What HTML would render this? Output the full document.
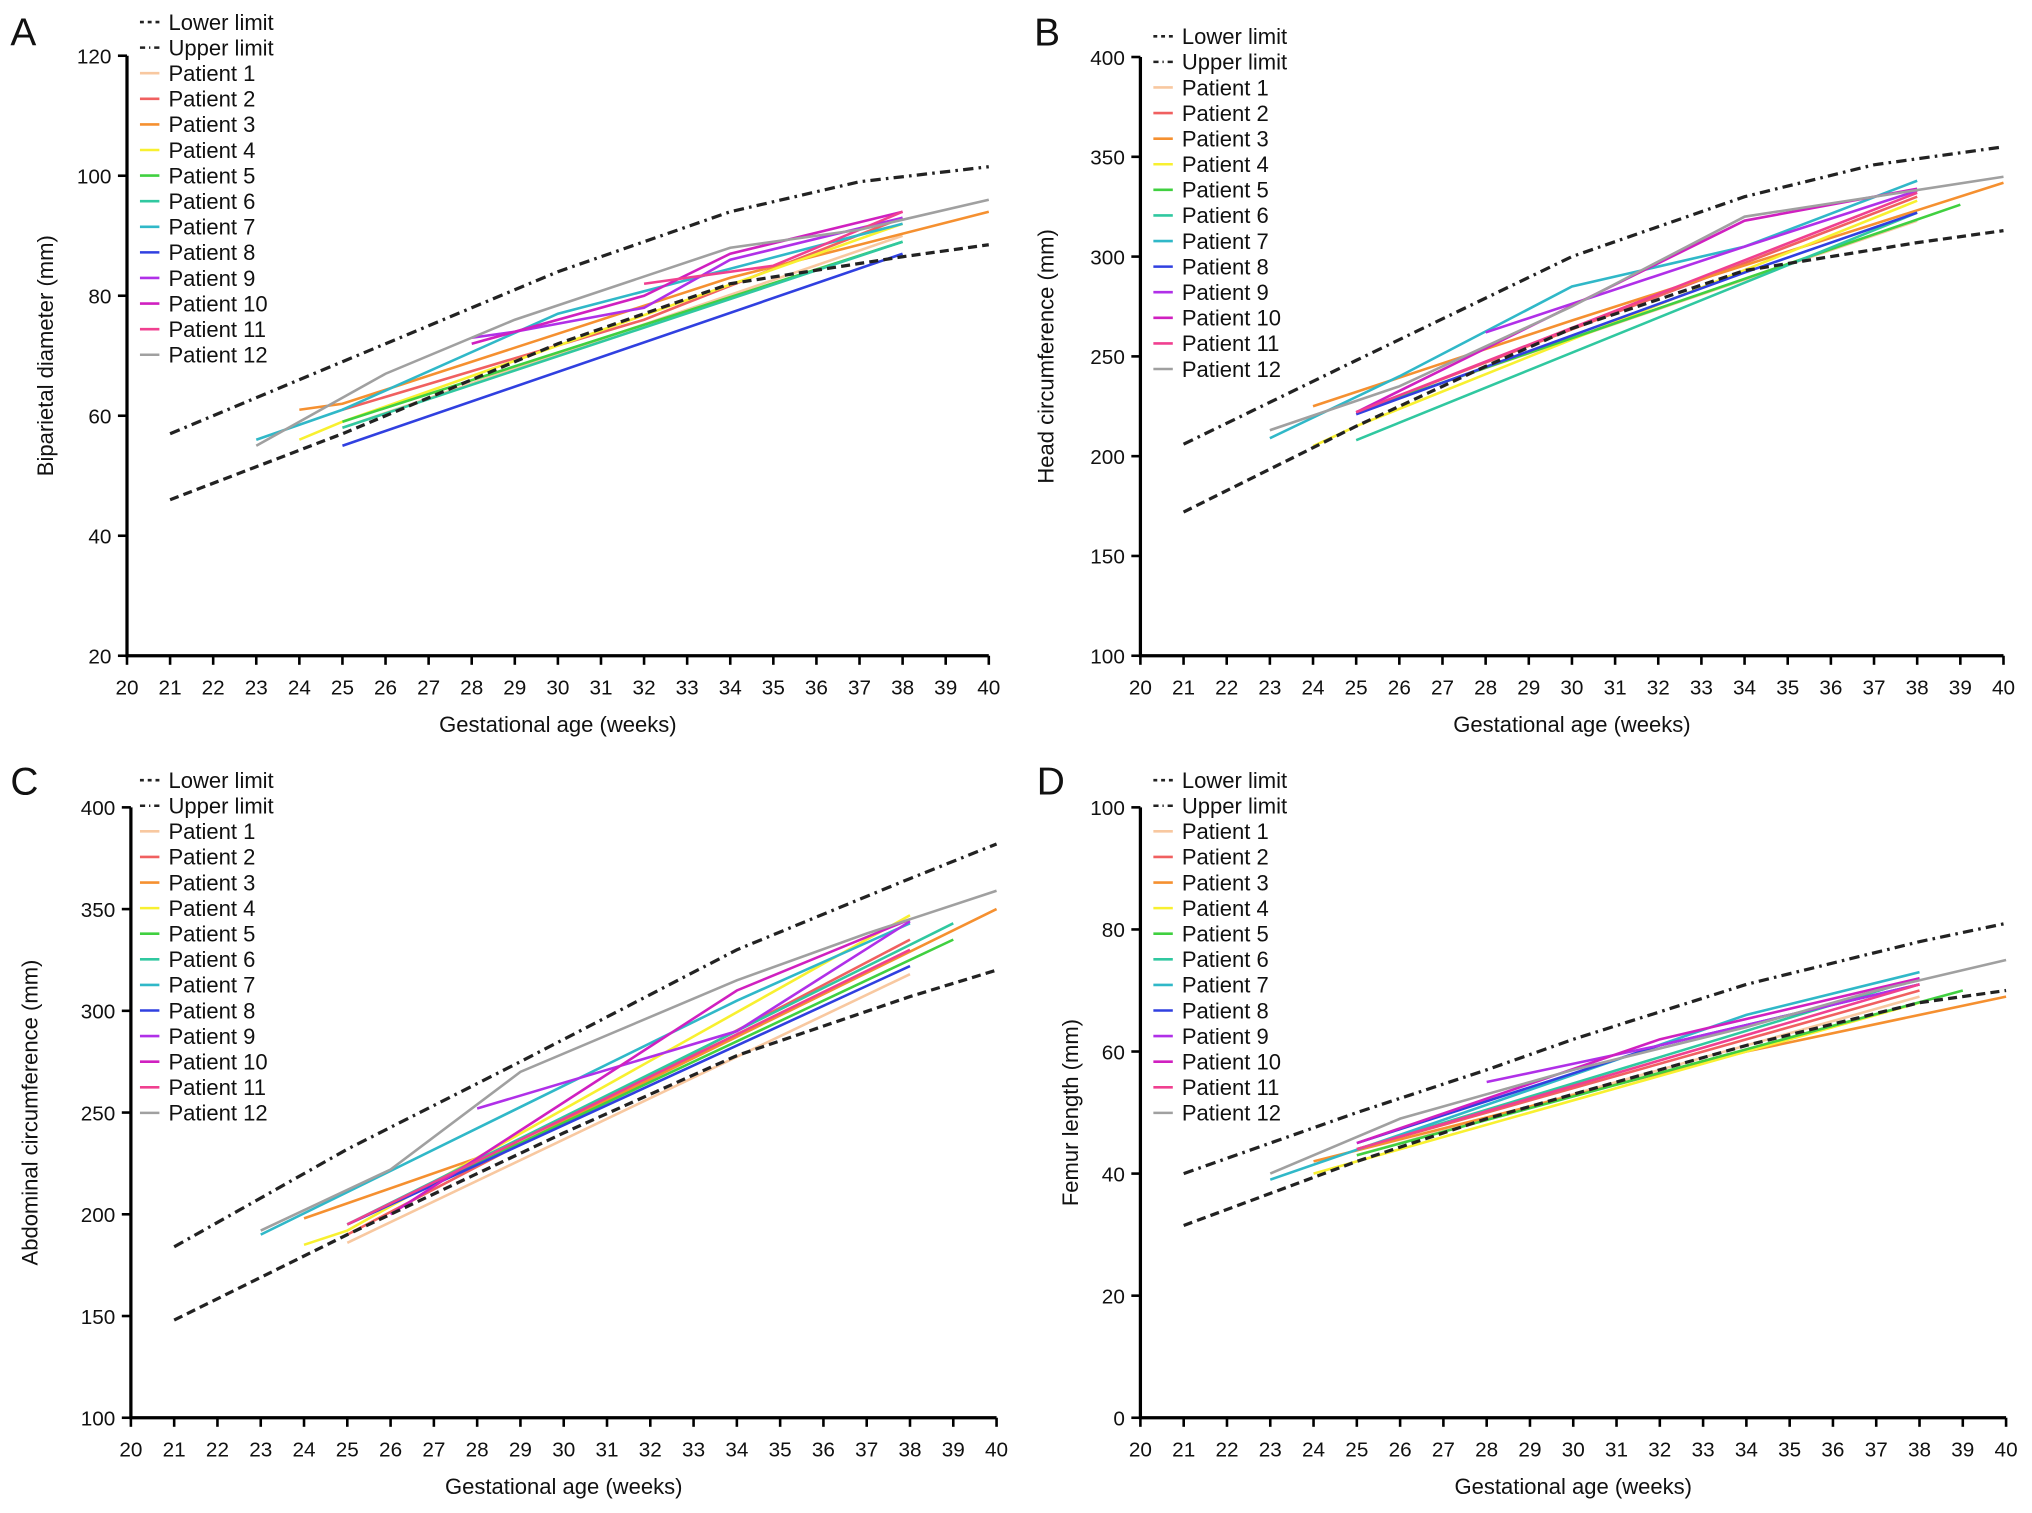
<!DOCTYPE html>
<html><head><meta charset="utf-8"><style>
html,body{margin:0;padding:0;background:#fff;}
svg{display:block;}
text{font-family:"Liberation Sans",Arial,sans-serif;fill:#111;}
</style></head><body>
<svg id="fig" width="2032" height="1513" viewBox="0 0 1568 1167.5" preserveAspectRatio="none" xmlns="http://www.w3.org/2000/svg"></svg>
<script>
const weekTicks = [20,21,22,23,24,25,26,27,28,29,30,31,32,33,34,35,36,37,38,39,40];
const patientNames = ["Patient 1","Patient 2","Patient 3","Patient 4","Patient 5","Patient 6","Patient 7","Patient 8","Patient 9","Patient 10","Patient 11","Patient 12"];
const patientColors = ["#f8c8a0","#f06060","#f59030","#f8f030","#40d040","#30c8a0","#30b8c8","#3040e0","#b030e8","#d020c0","#f04090","#a0a0a0"];

// Panel A: biparietal diameter
const aLower = [[21,46],[25,57],[28,66],[30,72],[34,82],[38,86.5],[40,88.5]];
const aUpper = [[21,57],[25,69],[28,78],[30,84],[34,94],[37,99],[40,101.5]];
const aPatients = [
 [[25,58],[38,90]],
 [[25,61],[32,76],[38,93]],
 [[24,61],[25,62],[34,83],[40,94]],
 [[24,56],[25,59],[38,92]],
 [[25,59],[38,89]],
 [[25,58],[38,89]],
 [[23,56],[25,61],[30,77],[38,92]],
 [[25,55],[38,87]],
 [[28,73],[29,74],[32,78],[34,86],[38,93]],
 [[28,72],[32,80],[34,87],[38,94]],
 [[32,82],[35,85],[38,94]],
 [[23,55],[26,67],[29,76],[34,88],[37,91],[40,96]]
];
const aYTicks = [20,40,60,80,100,120];

// Panel B: head circumference
const bLower = [[21,172],[25,215],[28,245],[30,264],[34,293],[38,307],[40,313]];
const bUpper = [[21,206],[25,248],[30,300],[34,330],[37,346],[40,355]];
const bPatients = [
 [[25,222],[38,318]],
 [[25,222],[38,330]],
 [[24,225],[30,268],[40,337]],
 [[24,205],[25,215],[38,328]],
 [[25,222],[39,326]],
 [[25,208],[38,322]],
 [[23,209],[26,240],[30,285],[34,305],[38,338]],
 [[25,221],[34,292],[38,322]],
 [[28,262],[34,305],[38,333]],
 [[25,222],[34,318],[38,334]],
 [[25,222],[38,332]],
 [[23,213],[26,235],[30,275],[34,320],[37,330],[40,340]]
];
const bYTicks = [100,150,200,250,300,350,400];

// Panel C: abdominal circumference
const cLower = [[21,148],[25,190],[28,220],[30,240],[34,278],[38,307],[40,320]];
const cUpper = [[21,184],[25,232],[29,275],[34,330],[38,365],[40,382]];
const cPatients = [
 [[25,186],[38,318]],
 [[25,190],[38,335]],
 [[24,198],[29,235],[40,350]],
 [[24,185],[25,192],[38,347]],
 [[25,195],[39,335]],
 [[25,195],[39,343]],
 [[23,190],[34,305],[38,343]],
 [[25,195],[38,322]],
 [[28,252],[34,290],[38,344]],
 [[26,200],[34,310],[38,345]],
 [[25,195],[38,330]],
 [[23,192],[26,222],[29,270],[34,315],[37,338],[40,359]]
];
const cYTicks = [100,150,200,250,300,350,400];

// Panel D: femur length
const dLower = [[21,31.5],[25,42],[28,49],[30,53],[34,61],[38,68],[40,70]];
const dUpper = [[21,40],[25,50],[28,57],[30,62],[34,71],[38,78],[40,81]];
const dPatients = [
 [[25,43],[38,69]],
 [[25,44],[38,70]],
 [[24,42],[34,60],[40,69]],
 [[24,40],[38,68]],
 [[25,43],[39,70]],
 [[25,44],[38,72]],
 [[23,39],[34,66],[38,73]],
 [[25,45],[32,61],[38,71]],
 [[28,55],[32,61],[38,71]],
 [[25,45],[32,62],[38,72]],
 [[25,44],[38,71]],
 [[23,40],[26,49],[30,57],[34,64],[37,70],[40,75]]
];
const dYTicks = [0,20,40,60,80,100];

const NS="http://www.w3.org/2000/svg";
const svg=document.getElementById('fig');
function mk(tag,attrs,parent){const e=document.createElementNS(NS,tag);for(const k in attrs)e.setAttribute(k,attrs[k]);(parent||svg).appendChild(e);return e;}

function panel(cfg){
 const g=mk('g',{});
 
 
 const xs=w=>cfg.x0+(w-20)*(cfg.x1-cfg.x0)/20;
 const ymin=cfg.yt[0], ymax=cfg.yt[cfg.yt.length-1];
 const ys=v=>cfg.yb-(v-ymin)*(cfg.yb-cfg.ytop)/(ymax-ymin);
 // axes
 const ax=mk('path',{d:`M${cfg.x0},${cfg.ytop} V${cfg.yb} H${cfg.x1}`,stroke:'#000','stroke-width':2.5,fill:'none'},g);
 
 
 for(const w of weekTicks){
  mk('line',{x1:xs(w),x2:xs(w),y1:cfg.yb,y2:cfg.yb+7,stroke:'#000','stroke-width':2},g);
  const t=mk('text',{x:xs(w),y:cfg.yb+30,'text-anchor':'middle','font-size':16},g);
  t.textContent=w;
  
  
 }
 for(const v of cfg.yt){
  mk('line',{x1:cfg.x0-7,x2:cfg.x0,y1:ys(v),y2:ys(v),stroke:'#000','stroke-width':2},g);
  const t=mk('text',{x:cfg.x0-12,y:ys(v)+6,'text-anchor':'end','font-size':16},g);
  t.textContent=v;
  
  
 }
 const xt=mk('text',{x:(cfg.x0+cfg.x1)/2,y:cfg.yb+59,'text-anchor':'middle','font-size':17},g);
 xt.textContent='Gestational age (weeks)';
 
 
 const yty=(cfg.ytop+cfg.yb)/2;
 const yt=mk('text',{x:cfg.ytx,y:yty,'text-anchor':'middle','font-size':17,transform:`rotate(-90 ${cfg.ytx} ${yty})`},g);
 yt.textContent=cfg.ytitle;
 
 
 const L=mk('text',{x:cfg.lx,y:cfg.ly,'font-size':30},g);
 L.textContent=cfg.letter;
 
 
 const pts=a=>a.map(p=>xs(p[0])+','+ys(p[1])).join(' ');
 cfg.pat.forEach((a,i)=>{
  const p=mk('polyline',{points:pts(a),fill:'none',stroke:patientColors[i],'stroke-width':2},g);
  
  
 });
 const lo=mk('polyline',{points:pts(cfg.lo),fill:'none',stroke:'#222','stroke-width':2.5,'stroke-dasharray':'7 4'},g);
 
 
 const up=mk('polyline',{points:pts(cfg.up),fill:'none',stroke:'#222','stroke-width':2.5,'stroke-dasharray':'8 4 2 4'},g);
 
 
 // legend
 const names=['Lower limit','Upper limit'].concat(patientNames);
 names.forEach((n,i)=>{
  const y=cfg.legy+i*19.75;
  const le=mk('g',{},g);
  
  
  const st={stroke:i<2?'#222':patientColors[i-2],'stroke-width':2};
  if(i===0)st['stroke-dasharray']='3 3';
  if(i===1)st['stroke-dasharray']='4 3 1 3';
  mk('line',Object.assign({x1:cfg.legx,x2:cfg.legx+15,y1:y,y2:y},st),le);
  const t=mk('text',{x:cfg.legx+22,y:y+6,'font-size':17},le);
  t.textContent=n;
 });
}
panel({letter:'A',x0:98,x1:763,ytop:43,yb:506,yt:aYTicks,lo:aLower,up:aUpper,pat:aPatients,ytitle:'Biparietal diameter (mm)',ytx:41,lx:8,ly:35,legx:108,legy:17});
panel({letter:'B',x0:880,x1:1546,ytop:44,yb:506,yt:bYTicks,lo:bLower,up:bUpper,pat:bPatients,ytitle:'Head circumference (mm)',ytx:813,lx:798,ly:35,legx:890,legy:28});
panel({letter:'C',x0:101,x1:769,ytop:623,yb:1094,yt:cYTicks,lo:cLower,up:cUpper,pat:cPatients,ytitle:'Abdominal circumference (mm)',ytx:29,lx:8,ly:613,legx:108,legy:602});
panel({letter:'D',x0:880,x1:1548,ytop:623,yb:1094,yt:dYTicks,lo:dLower,up:dUpper,pat:dPatients,ytitle:'Femur length (mm)',ytx:832,lx:800,ly:613,legx:890,legy:602});
</script>
</body></html>
